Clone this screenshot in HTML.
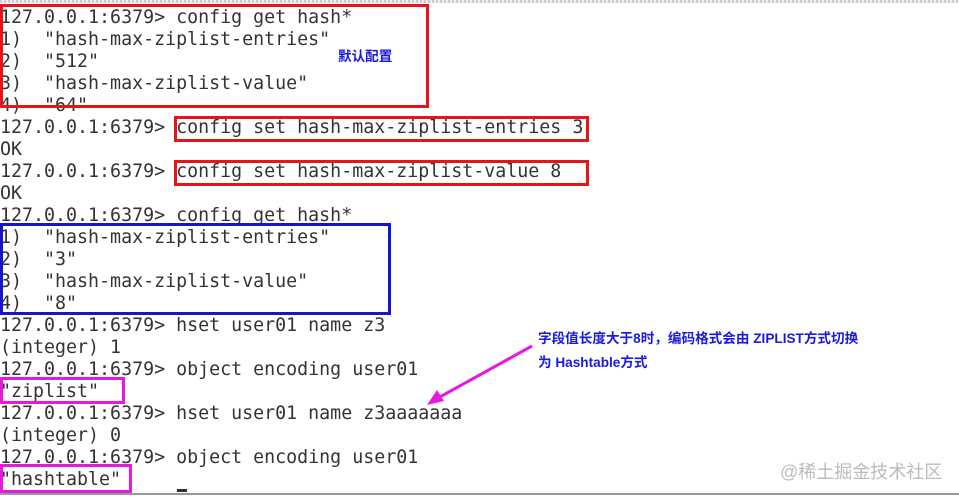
<!DOCTYPE html>
<html><head><meta charset="utf-8"><style>
body{margin:0;width:959px;height:497px;background:#fff;position:relative;overflow:hidden}
.l{position:absolute;left:0;font-family:"DejaVu Sans Mono","Liberation Mono",monospace;font-size:18.3px;line-height:22px;color:#333;white-space:pre}
.b{position:absolute;box-sizing:border-box;border:3px solid}
.t{position:absolute;font-family:"Liberation Sans","Noto Sans CJK SC",sans-serif;font-weight:bold;color:#1a1adc;font-size:13.6px;white-space:pre}
</style></head><body>
<div style="position:absolute;left:0;top:0;width:959px;height:3px;background:repeating-linear-gradient(90deg,#ccc 0 2px,#eee 2px 4px)"></div>
<div style="position:absolute;left:0;top:493px;width:959px;height:2px;background:#999"></div>
<div class="l" style="top:7px">127.0.0.1:6379> config get hash*</div>
<div class="l" style="top:29px">1)  "hash-max-ziplist-entries"</div>
<div class="l" style="top:51px">2)  "512"</div>
<div class="l" style="top:73px">3)  "hash-max-ziplist-value"</div>
<div class="l" style="top:95px">4)  "64"</div>
<div class="l" style="top:117px">127.0.0.1:6379> config set hash-max-ziplist-entries 3</div>
<div class="l" style="top:139px">OK</div>
<div class="l" style="top:161px">127.0.0.1:6379> config set hash-max-ziplist-value 8</div>
<div class="l" style="top:183px">OK</div>
<div class="l" style="top:205px">127.0.0.1:6379> config get hash*</div>
<div class="l" style="top:227px">1)  "hash-max-ziplist-entries"</div>
<div class="l" style="top:249px">2)  "3"</div>
<div class="l" style="top:271px">3)  "hash-max-ziplist-value"</div>
<div class="l" style="top:293px">4)  "8"</div>
<div class="l" style="top:315px">127.0.0.1:6379> hset user01 name z3</div>
<div class="l" style="top:337px">(integer) 1</div>
<div class="l" style="top:359px">127.0.0.1:6379> object encoding user01</div>
<div class="l" style="top:381px">"ziplist"</div>
<div class="l" style="top:403px">127.0.0.1:6379> hset user01 name z3aaaaaaa</div>
<div class="l" style="top:425px">(integer) 0</div>
<div class="l" style="top:447px">127.0.0.1:6379> object encoding user01</div>
<div class="l" style="top:469px">"hashtable"</div>
<div style="position:absolute;left:177px;top:489px;width:10px;height:3px;background:#333"></div>
<div class="b" style="left:0;top:4px;width:429px;height:104px;border-color:#e8141c"></div>
<div class="b" style="left:174px;top:116px;width:415px;height:26px;border-color:#e8141c"></div>
<div class="b" style="left:174px;top:160px;width:415px;height:26px;border-color:#e8141c"></div>
<div class="b" style="left:0;top:223px;width:391px;height:92px;border-color:#1414d2"></div>
<div class="b" style="left:0;top:377px;width:125px;height:27px;border-color:#e619e0"></div>
<div class="b" style="left:0;top:464px;width:132px;height:29px;border-color:#e619e0"></div>
<div class="t" style="left:338px;top:45px">默认配置</div>
<div class="t" style="left:538px;top:327px">字段值长度大于8时，编码格式会由 ZIPLIST方式切换</div>
<div class="t" style="left:538px;top:351px">为 Hashtable方式</div>
<svg style="position:absolute;left:0;top:0" width="959" height="497">
<line x1="532" y1="346" x2="438" y2="398" stroke="#e619e0" stroke-width="3"/>
<polygon points="427,405 437,390 444,401" fill="#e619e0"/>
</svg>
<div style="position:absolute;left:780px;top:458px;font-family:'Liberation Sans','Noto Sans CJK SC',sans-serif;font-size:18px;color:#bbb">@稀土掘金技术社区</div>
</body></html>
